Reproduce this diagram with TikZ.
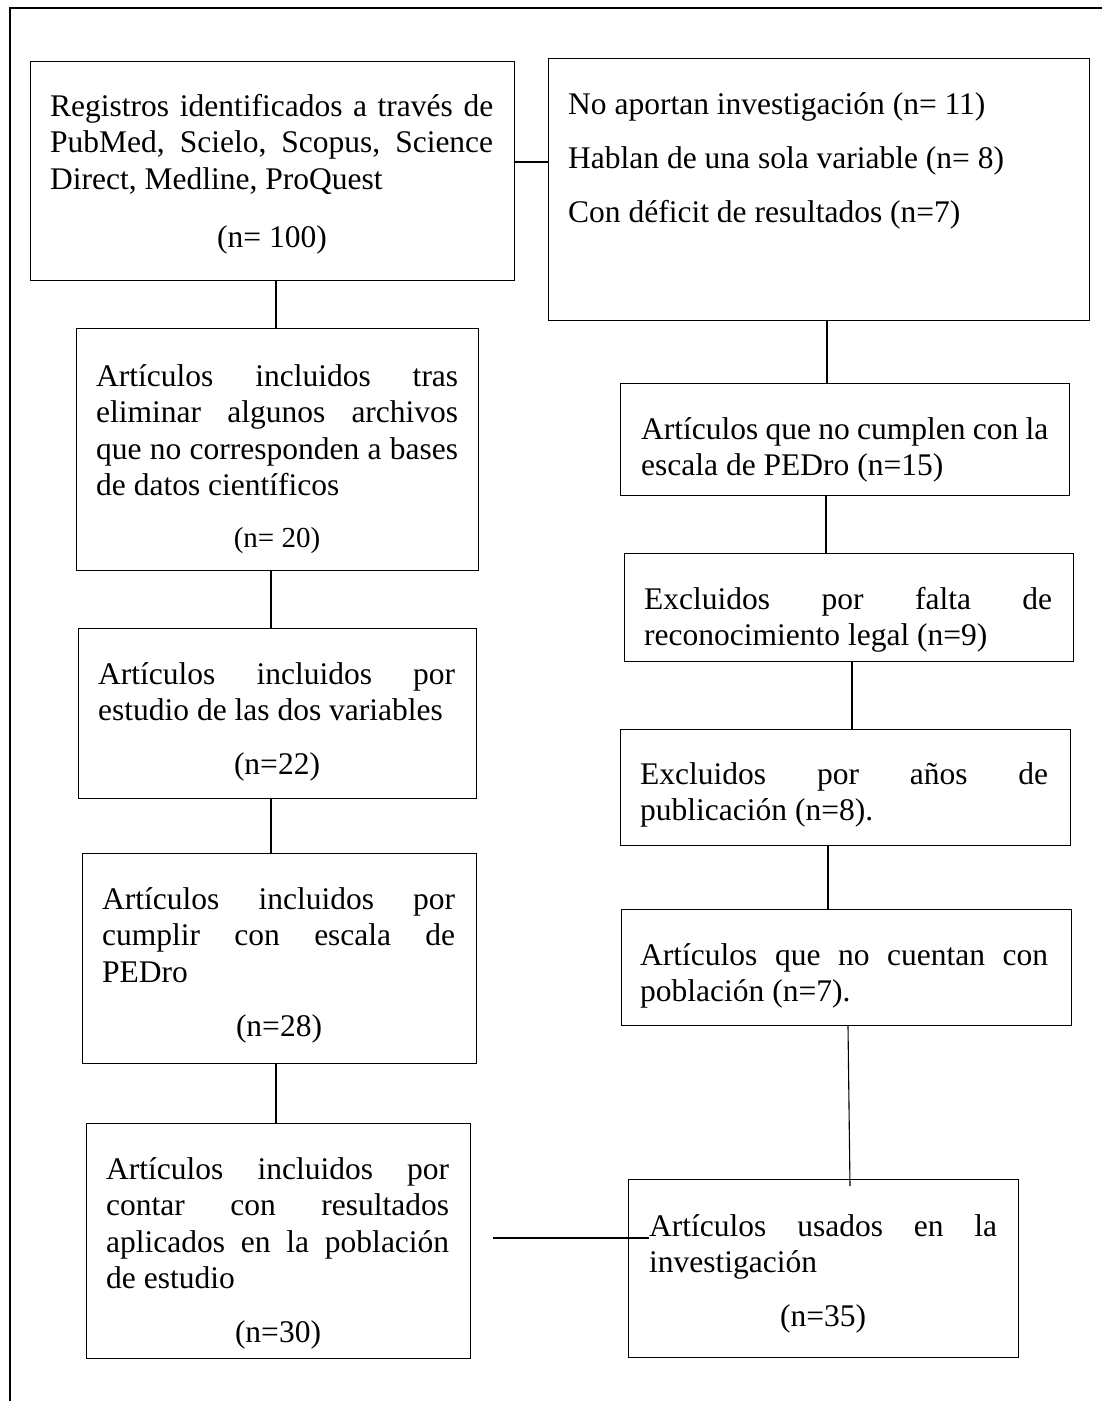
\documentclass[tikz,border=0pt]{standalone}
\usepackage{fontspec}
\setmainfont{Liberation Serif}
\newcommand{\jl}[2]{\makebox[#1pt][s]{#2}}
\begin{document}
\begin{tikzpicture}[x=1pt,y=-1pt,
  boxnode/.style={draw, line width=1.1pt, inner sep=0pt, anchor=north west},
  txt/.style={anchor=north west, inner sep=0pt, align=left, font=\fontsize{31.5}{36.5}\selectfont},
  num/.style={anchor=base, inner sep=0pt, font=\fontsize{31.5}{36.5}\selectfont},
  conn/.style={line width=1.1pt}]
\useasboundingbox (0,0) rectangle (1102,1401);
% outer frame
\draw[line width=2.5pt] (10,1401) -- (10,8) -- (1102,8);
% left column
\node[boxnode, minimum width=484pt, minimum height=219pt] (b1) at (30,61) {};
\node[txt] (t1) at (50,90.5) {\strut\jl{443}{Registros identificados a través de}\\\jl{443}{PubMed, Scielo, Scopus, Science}\\Direct, Medline, ProQuest};
\node[num] (n1) at (272,247) {(n= 100)};
\node[boxnode, minimum width=541pt, minimum height=262pt] (b2) at (548,58) {};
\node[txt, font=\fontsize{31.5}{54}\selectfont] (t2) at (568,76.2) {\strut No aportan investigación (n= 11)\\Hablan de una sola variable (n= 8)\\Con déficit de resultados (n=7)};
\node[boxnode, minimum width=402pt, minimum height=242pt] (b3) at (76,328) {};
\node[txt] (t3) at (96,360.5) {\strut\jl{362}{Artículos incluidos tras}\\\jl{362}{eliminar algunos archivos}\\\jl{362}{que no corresponden a bases}\\de datos científicos};
\node[num, font=\fontsize{29}{36.5}\selectfont] (n3) at (277,547) {(n= 20)};
\node[boxnode, minimum width=398pt, minimum height=170pt] (b4) at (78,628) {};
\node[txt] (t4) at (98,658.5) {\strut\jl{357}{Artículos incluidos por}\\estudio de las dos variables};
\node[num] (n4) at (277,774) {(n=22)};
\node[boxnode, minimum width=394pt, minimum height=210pt] (b5) at (82,853) {};
\node[txt] (t5) at (102,883.5) {\strut\jl{353}{Artículos incluidos por}\\\jl{353}{cumplir con escala de}\\PEDro};
\node[num] (n5) at (279,1036) {(n=28)};
\node[boxnode, minimum width=384pt, minimum height=235pt] (b6) at (86,1123) {};
\node[txt] (t6) at (106,1153.5) {\strut\jl{343}{Artículos incluidos por}\\\jl{343}{contar con resultados}\\\jl{343}{aplicados en la población}\\de estudio};
\node[num] (n6) at (278,1342) {(n=30)};
% right column
\node[boxnode, minimum width=449pt, minimum height=112pt] (b8) at (620,383) {};
\node[txt] (t8) at (641,413.5) {\strut\jl{407}{Artículos que no cumplen con la}\\escala de PEDro (n=15)};
\node[boxnode, minimum width=449pt, minimum height=108pt] (b9) at (624,553) {};
\node[txt] (t9) at (644,583.5) {\strut\jl{408}{Excluidos por falta de}\\reconocimiento legal (n=9)};
\node[boxnode, minimum width=450pt, minimum height=116pt] (b10) at (620,729) {};
\node[txt] (t10) at (640,758.5) {\strut\jl{408}{Excluidos por años de}\\publicación (n=8).};
\node[boxnode, minimum width=450pt, minimum height=116pt] (b11) at (621,909) {};
\node[txt] (t11) at (640,939.5) {\strut\jl{408}{Artículos que no cuentan con}\\población (n=7).};
\node[boxnode, minimum width=390pt, minimum height=178pt] (b7) at (628,1179) {};
\node[txt] (t7) at (649,1210.5) {\strut\jl{348}{Artículos usados en la}\\investigación};
\node[num] (n7) at (823,1326) {(n=35)};
% connectors
\coordinate (e7) at (850,1186);
\coordinate (h6) at (493,1238);
\coordinate (h7) at (649,1238);
\draw[conn] (b1.east |- 0,162) -- (b2.west |- 0,162);
\draw[conn] (b1.south -| 276,0) -- (b3.north -| 276,0);
\draw[conn] (b3.south -| 271,0) -- (b4.north -| 271,0);
\draw[conn] (b4.south -| 271,0) -- (b5.north -| 271,0);
\draw[conn] (b5.south -| 276,0) -- (b6.north -| 276,0);
\draw[conn] (b2.south -| 827,0) -- (b8.north -| 827,0);
\draw[conn] (b8.south -| 826,0) -- (b9.north -| 826,0);
\draw[conn] (b9.south -| 852,0) -- (b10.north -| 852,0);
\draw[conn] (b10.south -| 828,0) -- (b11.north -| 828,0);
\draw[conn] (b11.south -| 848,0) -- (e7);
\draw[conn] (h6) -- (h7);
\end{tikzpicture}
\end{document}
